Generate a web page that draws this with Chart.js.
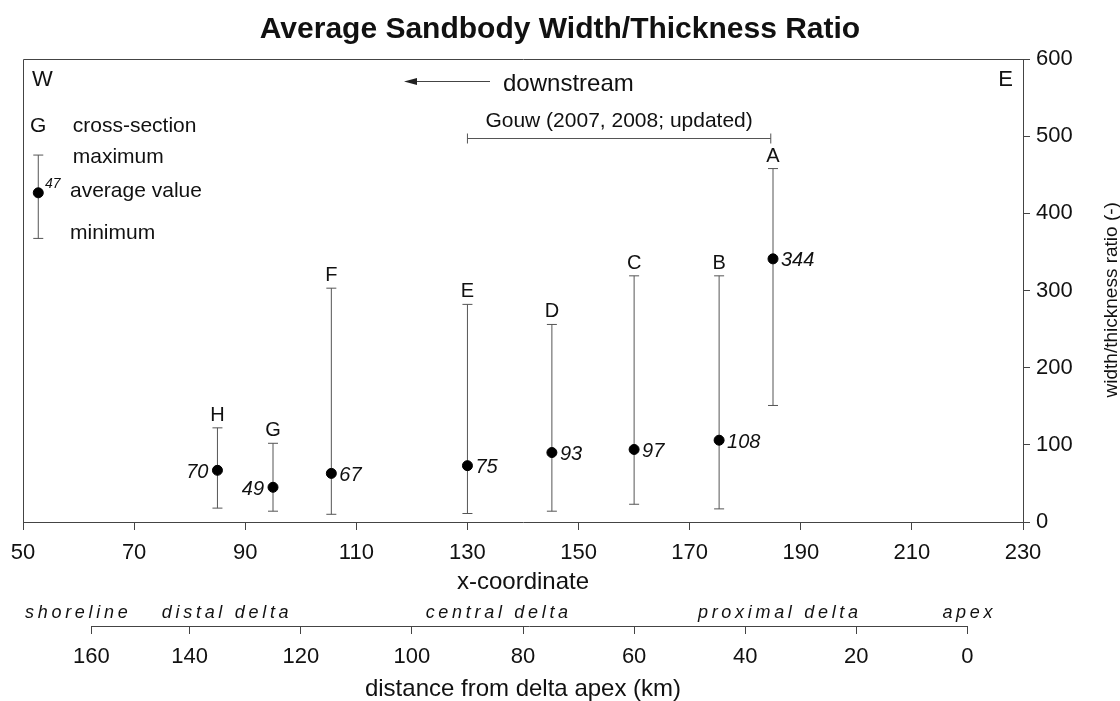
<!DOCTYPE html>
<html>
<head>
<meta charset="utf-8">
<title>Average Sandbody Width/Thickness Ratio</title>
<script src="https://cdn.jsdelivr.net/npm/chart.js@4.4.0/dist/chart.umd.min.js"></script>
<style>
  html, body { margin: 0; padding: 0; background: #fff; }
  #wrap { width: 1120px; height: 701px; }
</style>
</head>
<body>
<div id="wrap"><canvas id="chart" width="1120" height="701"></canvas></div>
<script>
// cross-sections, west (downstream) to east
const sites = ['H', 'G', 'F', 'E', 'D', 'C', 'B', 'A'];
const siteX = [85, 95, 105.5, 130, 145.2, 160, 175.3, 185];
const avgLabel = ['70', '49', '67', '75', '93', '97', '108', '344'];
const avgPlot = [67, 45, 63, 73, 90, 94, 106, 341];
const maxVal = [122, 102, 303, 282, 256, 319, 319, 458];
const minVal = [18, 14, 10, 11, 14, 23, 17, 151];
const labelSide = ['left', 'left', 'right', 'right', 'right', 'right', 'right', 'right'];

// second axis: distance from delta apex (km)
const kmLabels = ['160', '140', '120', '100', '80', '60', '40', '20', '0'];
const kmPos = [62.3, 80, 100, 120, 140, 160, 180, 200, 220];
const zoneNames = ['shoreline', 'distal delta', 'central delta', 'proximal delta', 'apex'];
const zoneX = [59.6, 86.4, 135.3, 185.9, 220];

// legend symbol (min, average, max) and its value tag
const legendX = 52.75;
const legendBar = [367.5, 426.6, 475.5];
const legendTag = '47';

// Gouw bracket
const gouwRange = [130, 184.6];
const gouwY = 498;

const FONT = '"Liberation Sans", Arial, Helvetica, sans-serif';
const INK = '#111';
const AXIS = '#444';
const BAR = '#555';

Chart.defaults.font.family = FONT;
Chart.defaults.color = INK;

const dots = siteX.map((x, i) => ({ x: x, y: avgPlot[i] }));
dots.push({ x: legendX, y: legendBar[1] });

const bars = [];
siteX.forEach((x, i) => {
  bars.push({ x: x, y: minVal[i] }, { x: x, y: maxVal[i] }, { x: x, y: null });
});
bars.push({ x: legendX, y: legendBar[0] }, { x: legendX, y: legendBar[2] });

function align(v) {
  return Math.round(v - 0.5) + 0.5;
}

function spacedText(ctx, str, cx, y, sp) {
  const chars = [...str];
  const widths = chars.map(c => ctx.measureText(c).width);
  const total = widths.reduce((a, b) => a + b, 0) + sp * (chars.length - 1);
  let x = cx - total / 2;
  ctx.textAlign = 'left';
  chars.forEach((c, i) => {
    ctx.fillText(c, x, y);
    x += widths[i] + sp;
  });
}

const extras = {
  id: 'extras',
  afterDraw(chart) {
    const ctx = chart.ctx;
    const xs = chart.scales.x;
    const x2 = chart.scales.x2;
    const ys = chart.scales.y;
    const px = v => xs.getPixelForValue(v);
    const py = v => ys.getPixelForValue(v);
    const { left, top, right, bottom } = chart.chartArea;

    ctx.save();
    ctx.strokeStyle = AXIS;
    ctx.lineWidth = 1;

    // frame (top + left)
    ctx.beginPath();
    ctx.moveTo(align(left), align(bottom));
    ctx.lineTo(align(left), align(top));
    ctx.lineTo(align(right), align(top));
    ctx.stroke();

    // second axis line, only over the km ticks
    ctx.beginPath();
    ctx.moveTo(x2.getPixelForValue(kmPos[0]), align(x2.top));
    ctx.lineTo(x2.getPixelForValue(kmPos[kmPos.length - 1]), align(x2.top));
    ctx.stroke();

    ctx.fillStyle = INK;
    ctx.textBaseline = 'alphabetic';

    // zone names above the km axis
    ctx.font = 'italic 18px ' + FONT;
    zoneNames.forEach((name, i) => {
      spacedText(ctx, name, x2.getPixelForValue(zoneX[i]), x2.top - 8, 3.7);
    });

    // section letters
    ctx.font = '20px ' + FONT;
    ctx.textAlign = 'center';
    sites.forEach((s, i) => {
      ctx.fillText(s, px(siteX[i]), py(maxVal[i]) - 7);
    });

    // average value tags
    ctx.font = 'italic 20px ' + FONT;
    avgLabel.forEach((t, i) => {
      const x = px(siteX[i]);
      const y = py(avgPlot[i]) + 7.5;
      if (labelSide[i] === 'left') {
        ctx.textAlign = 'right';
        ctx.fillText(t, x - 9, y);
      } else {
        ctx.textAlign = 'left';
        ctx.fillText(t, x + 8, y);
      }
    });

    // W / E
    ctx.font = '22px ' + FONT;
    ctx.textAlign = 'left';
    ctx.fillText('W', px(51.6), py(565));
    ctx.textAlign = 'right';
    ctx.fillText('E', px(228.2), py(565));

    // legend
    ctx.font = '21px ' + FONT;
    ctx.textAlign = 'center';
    ctx.fillText('G', px(legendX), py(505.7));
    ctx.textAlign = 'left';
    ctx.fillText('cross-section', px(58.95), py(505.7));
    ctx.fillText('maximum', px(58.95), py(464.7));
    ctx.fillText('average value', px(58.46), py(421.4));
    ctx.fillText('minimum', px(58.46), py(366.2));
    ctx.font = 'italic 14px ' + FONT;
    ctx.fillText(legendTag, px(53.96), py(432.7));

    // downstream arrow
    const ay = Math.round(py(571.8)) + 0.5;
    const tip = px(118.58);
    ctx.beginPath();
    ctx.moveTo(tip + 10, ay);
    ctx.lineTo(px(134.06), ay);
    ctx.stroke();
    ctx.beginPath();
    ctx.moveTo(tip, ay);
    ctx.lineTo(tip + 13, ay - 3.5);
    ctx.lineTo(tip + 13, ay + 3.5);
    ctx.closePath();
    ctx.fillStyle = '#222';
    ctx.fill();
    ctx.fillStyle = INK;
    ctx.font = '24px ' + FONT;
    ctx.fillText('downstream', px(136.4), py(558.9));

    // Gouw bracket
    const gy = Math.round(py(gouwY)) + 0.5;
    const g1 = px(gouwRange[0]);
    const g2 = px(gouwRange[1]);
    ctx.strokeStyle = BAR;
    ctx.beginPath();
    ctx.moveTo(g1, gy);
    ctx.lineTo(g2, gy);
    ctx.moveTo(g1, gy - 5);
    ctx.lineTo(g1, gy + 5);
    ctx.moveTo(g2, gy - 5);
    ctx.lineTo(g2, gy + 5);
    ctx.stroke();
    ctx.font = '21px ' + FONT;
    ctx.textAlign = 'center';
    ctx.fillText('Gouw (2007, 2008; updated)', (g1 + g2) / 2, gy - 11.5);

    // right axis title, reading upwards
    ctx.save();
    ctx.translate(chart.width - 3, py(288));
    ctx.rotate(-Math.PI / 2);
    ctx.font = '19px ' + FONT;
    ctx.textAlign = 'center';
    ctx.fillText('width/thickness ratio (-)', 0, 0);
    ctx.restore();

    ctx.restore();
  }
};

new Chart(document.getElementById('chart'), {
  type: 'scatter',
  data: {
    datasets: [
      {
        label: 'average',
        data: dots,
        xAxisID: 'x',
        yAxisID: 'y',
        pointRadius: 5,
        pointBackgroundColor: '#000',
        pointBorderColor: '#000',
        pointBorderWidth: 1
      },
      {
        label: 'range',
        data: bars,
        xAxisID: 'x',
        yAxisID: 'y',
        showLine: true,
        spanGaps: false,
        borderColor: BAR,
        borderWidth: 1,
        pointStyle: 'line',
        pointRadius: 5,
        pointBorderColor: BAR,
        pointBorderWidth: 1
      }
    ]
  },
  options: {
    responsive: false,
    animation: false,
    events: [],
    layout: { padding: 0 },
    plugins: {
      legend: { display: false },
      tooltip: { enabled: false },
      title: {
        display: true,
        text: 'Average Sandbody Width/Thickness Ratio',
        font: { size: 30, weight: 'bold' },
        color: INK,
        padding: { top: 12, bottom: 11 }
      }
    },
    scales: {
      x: {
        type: 'linear',
        position: 'bottom',
        weight: 0,
        min: 50,
        max: 230,
        ticks: { stepSize: 20, font: { size: 22 }, padding: 10, maxRotation: 0, color: INK },
        grid: { drawOnChartArea: false, tickLength: 8, color: AXIS },
        border: { color: AXIS, width: 1 },
        title: {
          display: true,
          text: 'x-coordinate',
          font: { size: 24 },
          color: INK,
          padding: { top: 0, bottom: 29 }
        },
        afterFit: s => { s.height = 104; }
      },
      x2: {
        type: 'linear',
        position: 'bottom',
        weight: 1,
        min: 50,
        max: 230,
        afterBuildTicks: s => { s.ticks = kmPos.map(v => ({ value: v })); },
        ticks: {
          font: { size: 22 },
          padding: 10,
          autoSkip: false,
          maxRotation: 0,
          color: INK,
          callback: v => kmLabels[kmPos.indexOf(v)]
        },
        grid: { drawOnChartArea: false, tickLength: 8, color: AXIS },
        border: { display: false },
        title: {
          display: true,
          text: 'distance from delta apex (km)',
          font: { size: 24, lineHeight: 1 },
          color: INK,
          padding: { top: 0, bottom: 0 }
        },
        afterFit: s => { s.height = 75; }
      },
      y: {
        type: 'linear',
        position: 'right',
        min: 0,
        max: 600,
        ticks: { stepSize: 100, font: { size: 22 }, padding: 6, color: INK },
        grid: { drawOnChartArea: false, tickLength: 7, color: AXIS },
        border: { color: AXIS, width: 1 },
        afterFit: s => { s.width = 97; }
      },
      yl: {
        type: 'linear',
        position: 'left',
        min: 0,
        max: 1,
        ticks: { display: false },
        grid: { display: false },
        border: { display: false },
        afterFit: s => { s.width = 23; }
      }
    }
  },
  plugins: [extras]
});
</script>
</body>
</html>
